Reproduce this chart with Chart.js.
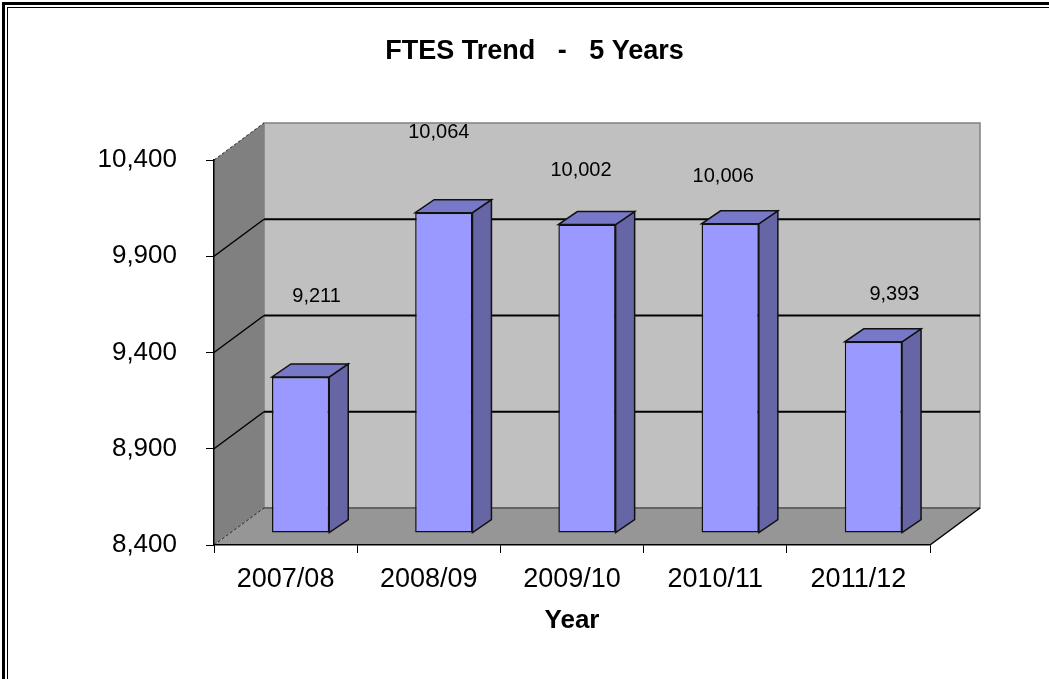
<!DOCTYPE html>
<html>
<head>
<meta charset="utf-8">
<title>FTES Trend - 5 Years</title>
<script src="https://cdn.jsdelivr.net/npm/chart.js@4.4.1/dist/chart.umd.min.js"></script>
<style>
	html, body { margin: 0; padding: 0; background: #fff; }
	.chart__wrap { width: 1049px; height: 679px; position: relative; }
</style>
</head>
<body>
<div class="chart__wrap"><canvas id="ftesChart"></canvas></div>
<script>
const years = ["2007/08", "2008/09", "2009/10", "2010/11", "2011/12"];
const ftes = [9211, 10064, 10002, 10006, 9393];
const yTicks = [8400, 8900, 9400, 9900, 10400];
const chartTitle = "FTES Trend   -   5 Years";

const FONT = "'Liberation Sans', Arial, sans-serif";

// depth of the box (back wall offset) and of the bars
const wallDepth = { dx: 50, dy: -37 };
const barShift = { dx: 15, dy: -12 };
const barDepth = { dx: 19, dy: -13 };
// where excel put each value label, relative to the top of the bar
const labelNudge = [[16, -80], [-5, -80], [-6, -54], [-7, -47], [21, -47]];

function poly(ctx, pts, fill, stroke, lw) {
	ctx.beginPath();
	ctx.moveTo(pts[0][0], pts[0][1]);
	for (let i = 1; i < pts.length; i++) ctx.lineTo(pts[i][0], pts[i][1]);
	ctx.closePath();
	if (fill) { ctx.fillStyle = fill; ctx.fill(); }
	if (stroke) { ctx.strokeStyle = stroke; ctx.lineWidth = lw || 1; ctx.stroke(); }
}

function line(ctx, x1, y1, x2, y2, color, lw, dash) {
	ctx.beginPath();
	ctx.setLineDash(dash || []);
	ctx.moveTo(x1, y1);
	ctx.lineTo(x2, y2);
	ctx.strokeStyle = color;
	ctx.lineWidth = lw;
	ctx.stroke();
	ctx.setLineDash([]);
}

const box3d = {
	id: "box3d",
	beforeDraw(chart) {
		const { ctx, chartArea: a, scales } = chart;
		const dx = wallDepth.dx, dy = wallDepth.dy;
		ctx.save();
		// side wall
		poly(ctx, [[a.left, a.top], [a.left + dx, a.top + dy], [a.left + dx, a.bottom + dy], [a.left, a.bottom]], "#808080");
		// back wall
		poly(ctx, [[a.left + dx, a.top + dy], [a.right + dx, a.top + dy], [a.right + dx, a.bottom + dy], [a.left + dx, a.bottom + dy]], "#c0c0c0", "#808080", 1.5);
		// floor
		poly(ctx, [[a.left, a.bottom], [a.right, a.bottom], [a.right + dx, a.bottom + dy], [a.left + dx, a.bottom + dy]], "#969696");
		line(ctx, a.left + dx, a.bottom + dy, a.right + dx, a.bottom + dy, "#555", 1.5);
		line(ctx, a.right, a.bottom, a.right + dx, a.bottom + dy, "#000", 1.5);
		line(ctx, a.left, a.bottom, a.left + dx, a.bottom + dy, "#222", 1, [3, 2]);
		line(ctx, a.left, a.top, a.left + dx, a.top + dy, "#222", 1, [3, 2]);
		// grid lines on side and back wall
		yTicks.forEach((v) => {
			if (v === yTicks[0] || v === yTicks[yTicks.length - 1]) return;
			const y = scales.y.getPixelForValue(v);
			line(ctx, a.left, y, a.left + dx, y + dy, "#000", 1.5);
			line(ctx, a.left + dx, y + dy, a.right + dx, y + dy, "#000", 2);
		});
		ctx.restore();
	},
	beforeDatasetsDraw(chart) {
		chart.ctx.save();
		chart.ctx.translate(barShift.dx, barShift.dy);
	},
	afterDatasetsDraw(chart) {
		const ctx = chart.ctx;
		ctx.restore();
		const meta = chart.getDatasetMeta(0);
		ctx.save();
		meta.data.forEach((bar, i) => {
			const { x, y, base, width } = bar.getProps(["x", "y", "base", "width"], true);
			const l = x - width / 2 + barShift.dx, r = x + width / 2 + barShift.dx;
			const t = y + barShift.dy, b = base + barShift.dy;
			const ddx = barDepth.dx, ddy = barDepth.dy;
			poly(ctx, [[r, t], [r + ddx, t + ddy], [r + ddx, b + ddy], [r, b]], "#6666a6", "#111", 1.5);
			poly(ctx, [[l, t], [r, t], [r + ddx, t + ddy], [l + ddx, t + ddy]], "#7878c8", "#111", 1.5);
			// value label
			const n = labelNudge[i];
			ctx.fillStyle = "#000";
			ctx.font = "20px " + FONT;
			ctx.textAlign = "center";
			ctx.textBaseline = "middle";
			ctx.fillText(ftes[i].toLocaleString("en-US"), x + barShift.dx + n[0], t + n[1]);
		});
		ctx.restore();
	},
	afterDraw(chart) {
		const { ctx, width, height } = chart;
		ctx.save();
		// title, centred on the whole picture
		ctx.fillStyle = "#000";
		ctx.font = "bold 27px " + FONT;
		ctx.textAlign = "center";
		ctx.textBaseline = "middle";
		ctx.fillText(chartTitle, width / 2 + 10, 52);
		// double frame
		ctx.fillRect(2, 2, width - 2, 3);
		ctx.fillRect(2, 2, 3, height - 2);
		ctx.fillRect(7, 7, width - 7, 1);
		ctx.fillRect(7, 7, 1, height - 7);
		ctx.restore();
	},
};

const ctx = document.getElementById("ftesChart");

const ftesChart = new Chart(ctx, {
	type: "bar",
	data: {
		labels: years,
		datasets: [
			{
				data: ftes,
				base: yTicks[0],
				backgroundColor: "#9999ff",
				borderColor: "#111",
				borderWidth: 1.5,
				borderSkipped: false,
				categoryPercentage: 1,
				barPercentage: 0.4,
				clip: false,
			},
		],
	},
	options: {
		responsive: true,
		maintainAspectRatio: false,
		animation: false,
		layout: { padding: { left: 0, right: 119, top: 160, bottom: 0 } },
		plugins: {
			legend: { display: false },
			tooltip: { enabled: false },
			title: { display: false },
		},
		scales: {
			x: {
				offset: true,
				grid: { offset: true, drawOnChartArea: false, drawTicks: true, tickLength: 8, color: "#000", lineWidth: 1 },
				border: { display: true, color: "#000", width: 1.5 },
				ticks: { color: "#000", font: { family: FONT, size: 27 }, padding: 10, maxRotation: 0 },
				title: {
					display: true,
					text: "Year",
					color: "#000",
					font: { family: FONT, size: 26, weight: "bold" },
					padding: { top: 0, bottom: 43 },
				},
				afterFit: (scale) => { scale.height = 134; },
			},
			y: {
				min: yTicks[0],
				max: yTicks[yTicks.length - 1],
				grid: { drawOnChartArea: false, drawTicks: true, tickLength: 8, color: "#000", lineWidth: 1 },
				border: { display: true, color: "#000", width: 1.5 },
				afterBuildTicks: (scale) => { scale.ticks = yTicks.map((v) => ({ value: v })); },
				ticks: {
					color: "#000",
					font: { family: FONT, size: 26 },
					padding: 29,
					callback: (v) => Number(v).toLocaleString("en-US"),
				},
				afterFit: (scale) => { scale.width = 214; },
			},
		},
	},
	plugins: [box3d],
});
</script>
</body>
</html>
